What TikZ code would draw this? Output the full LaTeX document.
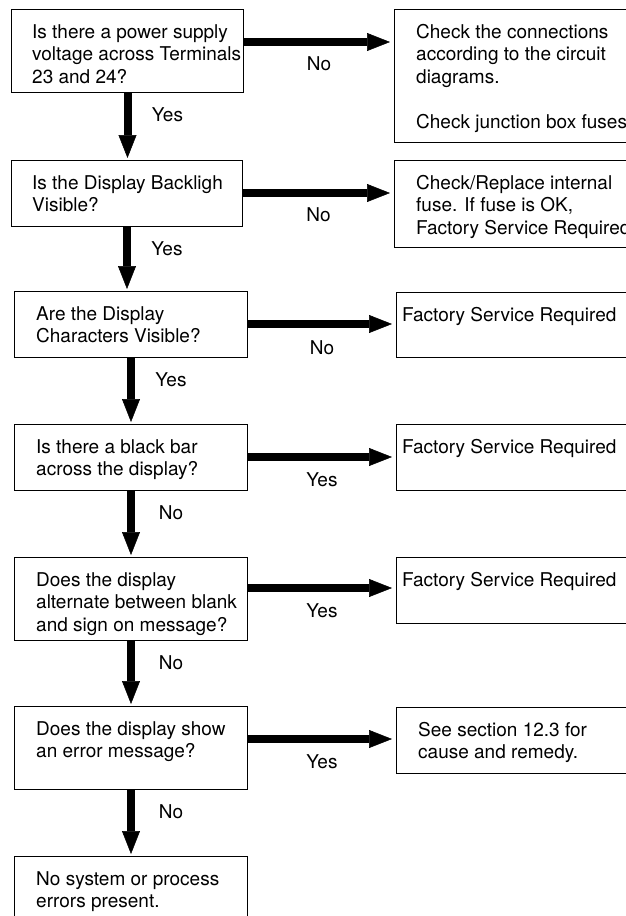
\documentclass[tikz,border=0pt]{standalone}
\usepackage{fontspec}
\setmainfont{TeX Gyre Heros}
\usepackage{tikz}
\usetikzlibrary{arrows.meta}
\tikzset{
  ar/.style={-{Triangle[length=23pt,width=18pt,line width=0.5pt]},line width=8pt},
  box/.style={draw,line width=1pt,anchor=north west,inner sep=0pt},
  txt/.style={anchor=base west,inner sep=0pt,font=\fontsize{19}{22.5}\selectfont},
  lbl/.style={inner sep=0pt,font=\fontsize{19}{22.5}\selectfont}
}
\newcommand{\boxlines}[1]{\parbox[t]{260pt}{#1}}

\begin{document}
\begin{tikzpicture}[x=1pt,y=-1pt]
\useasboundingbox (0,0) rectangle (626,916);
\clip (0,0) rectangle (626,916);
\node[box,minimum width=232pt,minimum height=83pt] (q1) at (11,9) {};
\node[box,minimum width=231pt,minimum height=66pt] (q2) at (11,160) {};
\node[box,minimum width=233pt,minimum height=66pt] (q3) at (14,291) {};
\node[box,minimum width=233pt,minimum height=66pt] (q4) at (14,424) {};
\node[box,minimum width=233pt,minimum height=83pt] (q5) at (14,557) {};
\node[box,minimum width=233pt,minimum height=83pt] (q6) at (14,706) {};
\node[box,minimum width=233pt,minimum height=90pt] (q7) at (14,856) {};
\node[box,minimum width=250pt,minimum height=133pt] (r1) at (394,9) {};
\node[box,minimum width=250pt,minimum height=87pt] (r2) at (394,160) {};
\node[box,minimum width=250pt,minimum height=65pt] (r3) at (396,292) {};
\node[box,minimum width=250pt,minimum height=66pt] (r4) at (396,424) {};
\node[box,minimum width=250pt,minimum height=66pt] (r5) at (396,557) {};
\node[box,minimum width=250pt,minimum height=66pt] (r6) at (396,707) {};

\node[txt] (tq1) at ([shift={(21,29)}]q1.north west) {\boxlines{Is there a power supply\\voltage across Terminals\\23 and 24?}};
\node[txt] (tq2) at ([shift={(21,29)}]q2.north west) {\boxlines{Is the Display Backligh\\Visible?}};
\node[txt] (tq3) at ([shift={(22,29)}]q3.north west) {\boxlines{Are the Display\\Characters Visible?}};
\node[txt] (tq4) at ([shift={(22,29)}]q4.north west) {\boxlines{Is there a black bar\\across the display?}};
\node[txt] (tq5) at ([shift={(22,29)}]q5.north west) {\boxlines{Does the display\\alternate between blank\\and sign on message?}};
\node[txt] (tq6) at ([shift={(22,29)}]q6.north west) {\boxlines{Does the display show\\an error message?}};
\node[txt] (tq7) at ([shift={(22,29)}]q7.north west) {\boxlines{No system or process\\errors present.}};
\node[txt] (tr1) at ([shift={(22,29)}]r1.north west) {\boxlines{Check the connections\\according to the circuit\\diagrams.\\[22.5pt]Check junction box fuses}};
\node[txt] (tr2) at ([shift={(22,29)}]r2.north west) {\boxlines{Check/Replace internal\\fuse.  If fuse is OK,\\Factory Service Required}};
\node[txt] (tr3) at ([shift={(6,29)}]r3.north west) {Factory Service Required};
\node[txt] (tr4) at ([shift={(6,29)}]r4.north west) {Factory Service Required};
\node[txt] (tr5) at ([shift={(6,29)}]r5.north west) {Factory Service Required};
\node[txt] (tr6) at ([shift={(22,29)}]r6.north west) {\boxlines{See section 12.3 for\\cause and remedy.}};

\coordinate (s1) at ([yshift=-33pt]q1.north east);
\coordinate (s2) at ([yshift=-33pt]q2.north east);
\coordinate (s3) at ([yshift=-33pt]q3.north east);
\coordinate (s4) at ([yshift=-33pt]q4.north east);
\coordinate (s5) at ([yshift=-31pt]q5.north east);
\coordinate (s6) at ([yshift=-33pt]q6.north east);
\draw[ar,shorten >=4pt] (s1) -- node[lbl,yshift=-22pt] (n1) {No} (s1 -| r1.west);
\draw[ar,shorten >=4pt] (s2) -- node[lbl,yshift=-22pt] (n2) {No} (s2 -| r2.west);
\draw[ar,shorten >=4pt] (s3) -- node[lbl,yshift=-24pt] (n3) {No} (s3 -| r3.west);
\draw[ar,shorten >=4pt] (s4) -- node[lbl,yshift=-23pt] (n4) {Yes} (s4 -| r4.west);
\draw[ar,shorten >=4pt] (s5) -- node[lbl,yshift=-23pt] (n5) {Yes} (s5 -| r5.west);
\draw[ar,shorten >=4pt] (s6) -- node[lbl,yshift=-23pt] (n6) {Yes} (s6 -| r6.west);

\draw[ar,shorten >=2pt] (q1.south) -- (q1.south |- q2.north);
\draw[ar,shorten >=2pt] (q2.south) -- (q2.south |- q3.north);
\draw[ar,shorten >=2pt] (q3.south) -- (q3.south |- q4.north);
\draw[ar,shorten >=2pt] (q4.south) -- (q4.south |- q5.north);
\draw[ar,shorten >=2pt] (q5.south) -- (q5.south |- q6.north);
\draw[ar,shorten >=2pt] (q6.south) -- (q6.south |- q7.north);
\node[lbl] (v1) at ([shift={(40,22)}]q1.south) {Yes};
\node[lbl] (v2) at ([shift={(40,22)}]q2.south) {Yes};
\node[lbl] (v3) at ([shift={(40,22)}]q3.south) {Yes};
\node[lbl] (v4) at ([shift={(40,22)}]q4.south) {No};
\node[lbl] (v5) at ([shift={(40,22)}]q5.south) {No};
\node[lbl] (v6) at ([shift={(40,22)}]q6.south) {No};
\end{tikzpicture}
\end{document}
